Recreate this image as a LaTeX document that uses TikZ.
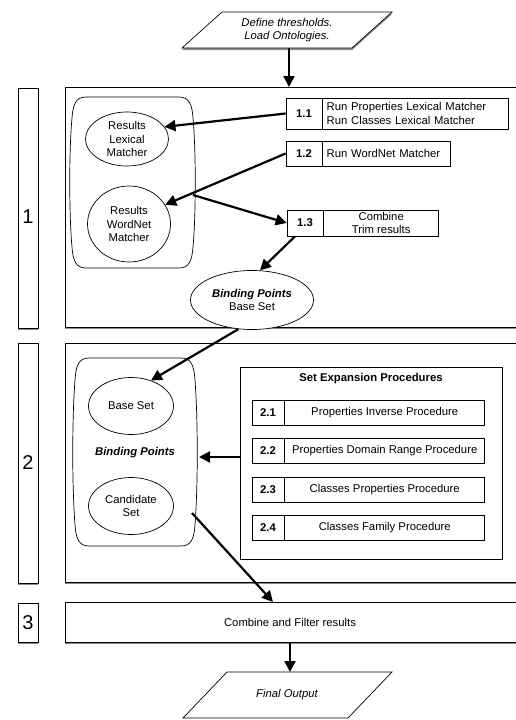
\documentclass[tikz,border=0pt]{standalone}
\usepackage{fontspec}
\setmainfont{Liberation Sans}
\usetikzlibrary{shapes.geometric,arrows.meta,shadows,calc}
\tikzset{
  base/.style={font=\fontsize{11.3}{13.8}\selectfont, inner sep=0pt, align=center},
  shad/.style={drop shadow={shadow xshift=0pt, shadow yshift=-2.2pt, opacity=0.6, fill=black!75}},
  stagebox/.style={draw, fill=white, line width=0.8pt, shad},
  numlabel/.style={base, font=\fontsize{20}{24}\selectfont},
  ell/.style={base, draw, ellipse, line width=0.7pt, fill=white},
  cell/.style={base, draw, rectangle, line width=0.7pt, fill=white},
  arr/.style={line width=2.2pt, -{Triangle[length=11pt,width=11pt]}},
  cont/.style={draw, line width=0.7pt, fill=white},
}
\begin{document}
\begin{tikzpicture}[x=1pt,y=-1pt]
\clip (0,0) rectangle (516,720);
\fill[white] (0,0) rectangle (516,720);

% ---------- input parallelogram ----------
\path[draw, fill=white, line width=0.7pt, shad] (222,12) -- (392,12) -- (352,48) -- (182,48) -- cycle;
\node[base, font=\fontsize{11.3}{13.8}\selectfont\itshape] (in) at (287,30) {Define thresholds.\\Load Ontologies.};
\coordinate (inbot) at (289,48);

% ---------- stage 1 ----------
\path[stagebox] (18,88) rectangle (38,328);
\node[numlabel] (l1) at (28,217) {1};
\path[stagebox] (65,87) rectangle (540,327);
\coordinate (m1top) at (289,87);

% container 1
\path[cont] (86,97) -- (179,97) .. controls (189,97) and (192,104) .. (193,118)
  .. controls (196,150) and (196,215) .. (193,247) .. controls (192,261) and (189,268) .. (179,268)
  -- (86,268) .. controls (76,268) and (73,261) .. (72,247)
  .. controls (69,215) and (69,150) .. (72,118) .. controls (73,104) and (76,97) .. (86,97) -- cycle;
\coordinate (c1out) at (193,195);

\node[ell, minimum width=83pt, minimum height=54pt] (rl) at (127,139) {Results\\Lexical\\Matcher};
\node[ell, minimum width=83pt, minimum height=76pt] (rw) at (129,224) {Results\\WordNet\\Matcher};

% 1.1
\node[cell, font=\fontsize{11.3}{13.8}\selectfont\bfseries, minimum width=36pt, minimum height=31pt] (n11) at (304,113.5) {1.1};
\node[cell, align=left, text width=178pt, inner xsep=4pt, minimum height=31pt, anchor=west] (t11) at (n11.east) {Run Properties Lexical Matcher\\Run Classes Lexical Matcher};
% 1.2
\node[cell, font=\fontsize{11.3}{13.8}\selectfont\bfseries, minimum width=36pt, minimum height=25pt] (n12) at (304,153.5) {1.2};
\node[cell, align=left, text width=120pt, inner xsep=4pt, minimum height=25pt, anchor=west] (t12) at (n12.east) {Run WordNet Matcher};
% 1.3
\node[cell, font=\fontsize{11.3}{13.8}\selectfont\bfseries, minimum width=36pt, minimum height=26pt] (n13) at (305,223) {1.3};
\node[cell, minimum width=115pt, minimum height=26pt, anchor=west] (t13) at (n13.east) {Combine\\Trim results};

\node[ell, minimum width=123pt, minimum height=59pt] (bp) at (252,300) {\textbf{\textit{Binding Points}}\\Base Set};

% ---------- stage 2 ----------
\path[stagebox] (18,343) rectangle (38,583);
\node[numlabel] (l2) at (28,463) {2};
\path[stagebox] (65,343) rectangle (540,582);

\path[cont] (89,358) -- (181,358) .. controls (191,358) and (194,365) .. (195,380)
  .. controls (198,420) and (198,485) .. (195,525) .. controls (194,539) and (191,546) .. (181,546)
  -- (89,546) .. controls (79,546) and (76,539) .. (75,525)
  .. controls (72,485) and (72,420) .. (75,380) .. controls (76,365) and (79,358) .. (89,358) -- cycle;
\coordinate (c2in) at (199,457);
\coordinate (c2out) at (192,513);

\node[ell, minimum width=85pt, minimum height=57pt] (bs) at (131,406) {Base Set};
\node[base] (bpt) at (135,453) {\textbf{\textit{Binding Points}}};
\node[ell, minimum width=85pt, minimum height=57pt] (cs) at (131,506) {Candidate\\Set};

\node[draw, line width=0.7pt, fill=white, minimum width=262pt, minimum height=192pt, inner sep=0pt] (sep) at (371,463) {};
\node[base, font=\fontsize{11.3}{13.8}\selectfont\bfseries] (sept) at (371,379) {Set Expansion Procedures};

\foreach \n/\y/\t in {21/412.5/Properties Inverse Procedure, 22/450.5/Properties Domain Range Procedure, 23/489.5/Classes Properties Procedure, 24/527.5/Classes Family Procedure}{
  \node[cell, font=\fontsize{11.3}{13.8}\selectfont\bfseries, minimum width=32pt, minimum height=25pt] (n\n) at (268,\y) {\ifcase\numexpr\n-20\relax\or 2.1\or 2.2\or 2.3\or 2.4\fi};
  \node[cell, minimum width=200pt, minimum height=25pt, anchor=west] (t\n) at (n\n.east) {\t};
}

% ---------- stage 3 ----------
\path[stagebox] (18,603) rectangle (38,642);
\node[numlabel] (l3) at (28,622.5) {3};
\path[stagebox] (65,602) rectangle (540,642);
\node[base] (m3) at (290,622) {Combine and Filter results};
\coordinate (m3top) at (273,602);
\coordinate (m3bot) at (290,642);

% ---------- output parallelogram ----------
\path[draw, fill=white, line width=0.7pt] (227,672) -- (392,672) -- (348,718) -- (183,718) -- cycle;
\node[base, font=\fontsize{11.3}{13.8}\selectfont\itshape] (out) at (287,695) {Final Output};
\coordinate (outtop) at (290,672);

% ---------- connectors ----------
\draw[arr] (inbot) -- (m1top);
\draw[arr] (n11.west) -- (rl.18);
\draw[arr] (n12.west) -- (rw.28);
\draw[arr] (c1out) -- (n13.west);
\draw[arr] ([xshift=-10pt]n13.south) -- (bp.75);
\draw[arr] (bp.245) -- (bs.52);
\draw[arr] (sep.west |- c2in) -- (c2in);
\draw[arr] (c2out) -- (m3top);
\draw[arr] (m3bot) -- (outtop);
\end{tikzpicture}
\end{document}
